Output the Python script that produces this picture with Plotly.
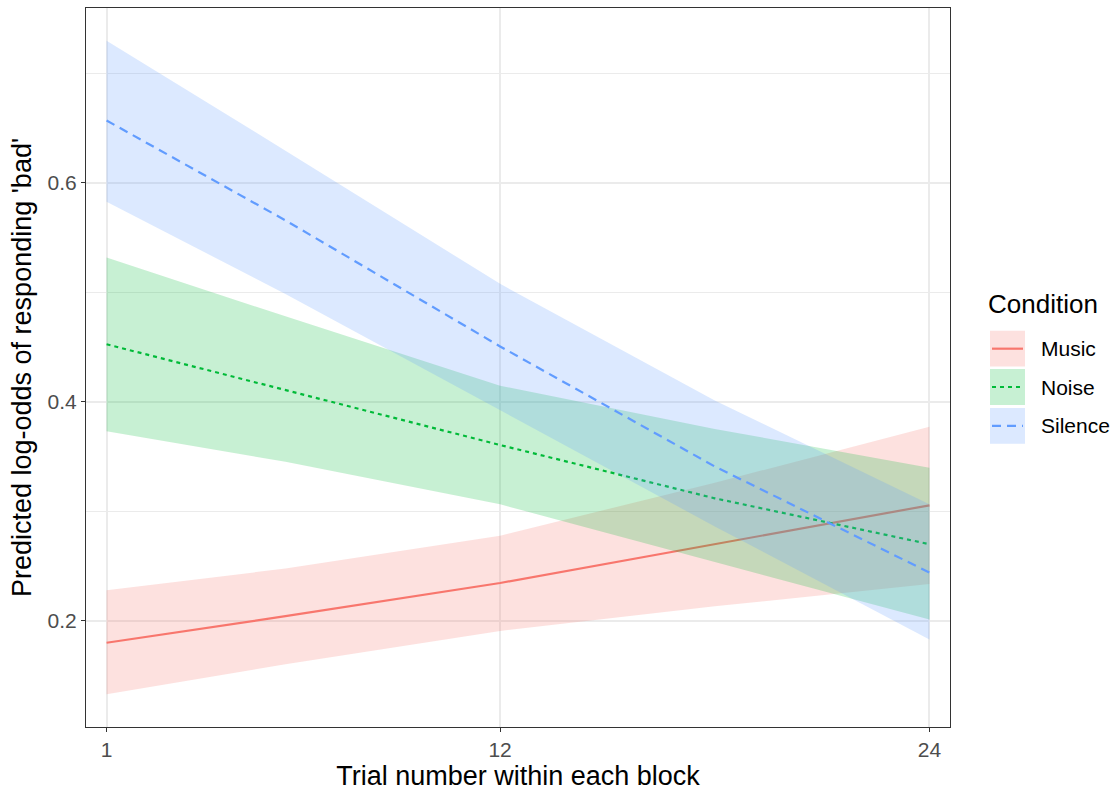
import plotly.graph_objects as go

# Predicted values at selected trial positions
trial = [1, 6, 12, 18, 24]

music_fit = [0.1797, 0.2040, 0.2343, 0.2698, 0.3053]
music_hi = [0.2277, 0.2475, 0.2775, 0.3260, 0.3770]
music_lo = [0.1326, 0.1600, 0.1905, 0.2130, 0.2334]

noise_fit = [0.4525, 0.4107, 0.3604, 0.3117, 0.2698]
noise_hi = [0.5317, 0.4780, 0.4146, 0.3751, 0.3396]
noise_lo = [0.3730, 0.3450, 0.3062, 0.2534, 0.2009]

silence_fit = [0.6570, 0.5657, 0.4505, 0.3408, 0.2439]
silence_hi = [0.7298, 0.6294, 0.5077, 0.4012, 0.3062]
silence_lo = [0.5827, 0.4985, 0.3921, 0.2860, 0.1827]

conditions = ["Music", "Noise", "Silence"]
colors = {"Music": (248, 118, 109), "Noise": (0, 186, 56), "Silence": (97, 156, 255)}
dashes = {"Music": "solid", "Noise": "4px,4px", "Silence": "9px,6px"}
series = {
    "Music": (music_fit, music_lo, music_hi),
    "Noise": (noise_fit, noise_lo, noise_hi),
    "Silence": (silence_fit, silence_lo, silence_hi),
}

ALPHA = 0.22
FONT = "Liberation Sans, Arial, Helvetica, sans-serif"

fig = go.Figure()
for name in conditions:
    fit, lo, hi = series[name]
    r, g, b = colors[name]
    fig.add_trace(go.Scatter(
        x=trial + trial[::-1], y=hi + lo[::-1],
        fill="toself", fillcolor=f"rgba({r},{g},{b},{ALPHA})",
        line=dict(width=0), mode="lines", hoverinfo="skip", showlegend=False,
    ))
    fig.add_trace(go.Scatter(
        x=trial, y=fit, mode="lines", name=name,
        line=dict(color=f"rgb({r},{g},{b})", width=2.2, dash=dashes[name]),
        showlegend=False,
    ))

# Legend drawn as keys in paper coordinates
L, R, T, B = 86, 950, 7.3, 729.5
def px(xp):
    return (xp - L) / (R - L)
def py(yp):
    return (B - yp) / (B - T)

shapes = []
annotations = [dict(
    text="Condition", x=px(986), y=py(305), xref="paper", yref="paper",
    xanchor="left", yanchor="middle", showarrow=False,
    font=dict(family=FONT, size=26, color="black"),
)]
key_tops = [331.5, 370, 409]
for name, top in zip(conditions, key_tops):
    r, g, b = colors[name]
    bottom = top + 36
    shapes.append(dict(
        type="rect", xref="paper", yref="paper",
        x0=px(990), x1=px(1025), y0=py(bottom), y1=py(top),
        fillcolor=f"rgba({r},{g},{b},{ALPHA})", line=dict(width=0), layer="above",
    ))
    mid = (top + bottom) / 2
    shapes.append(dict(
        type="line", xref="paper", yref="paper",
        x0=px(992), x1=px(1023), y0=py(mid), y1=py(mid),
        line=dict(color=f"rgb({r},{g},{b})", width=2.2, dash=dashes[name]), layer="above",
    ))
    annotations.append(dict(
        text=name, x=px(1039), y=py(mid), xref="paper", yref="paper",
        xanchor="left", yanchor="middle", showarrow=False,
        font=dict(family=FONT, size=21, color="black"),
    ))

fig.update_layout(
    width=1114, height=792,
    margin=dict(l=L, r=1114 - R, t=T, b=792 - B),
    paper_bgcolor="white", plot_bgcolor="white",
    font=dict(family=FONT),
    shapes=shapes, annotations=annotations,
    showlegend=False,
)
fig.update_xaxes(
    range=[0.425, 24.575], tickvals=[1, 12, 24], ticktext=["1", "12", "24"],
    showgrid=True, gridcolor="#EBEBEB", gridwidth=1.6, zeroline=False,
    ticks="outside", ticklen=4, tickcolor="#333333", tickwidth=1,
    tickfont=dict(family=FONT, size=21, color="#4D4D4D"),
    showline=True, linecolor="#333333", linewidth=1, mirror=True,
    title=dict(text="Trial number within each block", font=dict(family=FONT, size=27, color="black"), standoff=5),
)
fig.update_yaxes(
    range=[0.1027, 0.7598], tickvals=[0.2, 0.4, 0.6], ticktext=["0.2", "0.4", "0.6"],
    showgrid=True, gridcolor="#EBEBEB", gridwidth=1.6, zeroline=False,
    minor=dict(tickvals=[0.3, 0.5, 0.7], showgrid=True, gridcolor="#EBEBEB", gridwidth=0.8, ticks=""),
    ticks="outside", ticklen=4, tickcolor="#333333", tickwidth=1,
    tickfont=dict(family=FONT, size=21, color="#4D4D4D"),
    showline=True, linecolor="#333333", linewidth=1, mirror=True,
    title=dict(text="Predicted log-odds of responding 'bad'", font=dict(family=FONT, size=27, color="black"), standoff=8),
)

fig.write_html("out.html")
